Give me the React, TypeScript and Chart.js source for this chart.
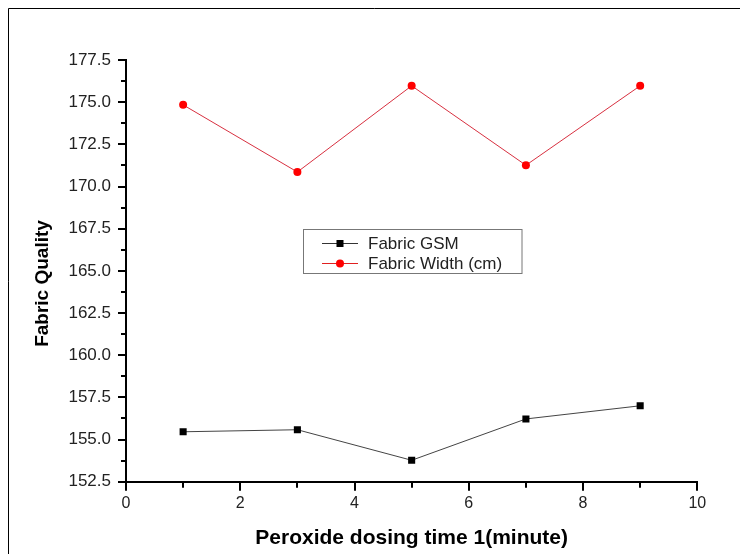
import React, { useEffect, useRef } from "react";
import { Chart, registerables } from "chart.js";

Chart.register(...registerables);

const xValues = [1, 3, 5, 7, 9];
const gsmValues = [155.46, 155.58, 153.77, 156.22, 157.0];
const widthValues = [174.84, 170.86, 175.97, 171.26, 175.97];
const seriesNames = ["Fabric GSM", "Fabric Width (cm)"];
const xTitle = "Peroxide dosing time 1(minute)";
const yTitle = "Fabric Quality";
const xMinorTicks = [1, 3, 5, 7, 9];
const yMinorTicks = [153.75, 156.25, 158.75, 161.25, 163.75, 166.25, 168.75, 171.25, 173.75, 176.25];

const FONT = "'Liberation Sans', Arial, sans-serif";

const decorPlugin = {
  id: "decor",
  beforeDraw(chart: any) {
    const ctx = chart.ctx;
    ctx.save();
    ctx.fillStyle = "#fff";
    ctx.fillRect(0, 0, chart.width, chart.height);
    ctx.strokeStyle = "#000";
    ctx.lineWidth = 1;
    ctx.beginPath();
    ctx.moveTo(8.5, chart.height);
    ctx.lineTo(8.5, 8.5);
    ctx.lineTo(chart.width, 8.5);
    ctx.stroke();
    ctx.restore();
  },
  afterDraw(chart: any) {
    const ctx = chart.ctx;
    const xs = chart.scales.x;
    const ys = chart.scales.y;
    const area = chart.chartArea;
    ctx.save();
    // minor ticks
    ctx.strokeStyle = "#000";
    ctx.lineWidth = 2;
    ctx.beginPath();
    xMinorTicks.forEach((v) => {
      const px = Math.round(xs.getPixelForValue(v));
      ctx.moveTo(px, area.bottom);
      ctx.lineTo(px, area.bottom + 6);
    });
    yMinorTicks.forEach((v) => {
      const py = Math.round(ys.getPixelForValue(v));
      ctx.moveTo(area.left, py);
      ctx.lineTo(area.left - 5, py);
    });
    ctx.stroke();

    // titles
    ctx.fillStyle = "#000";
    ctx.font = `bold 21px ${FONT}`;
    ctx.textAlign = "center";
    ctx.textBaseline = "middle";
    ctx.fillText(xTitle, (area.left + area.right) / 2, 538);
    ctx.save();
    ctx.translate(43, 283.5);
    ctx.rotate(-Math.PI / 2);
    ctx.font = `bold 19px ${FONT}`;
    ctx.fillText(yTitle, 0, 0);
    ctx.restore();

    // legend box
    const lx = 303.5, ly = 229.5, lw = 218.5, lh = 44;
    ctx.strokeStyle = "#777";
    ctx.lineWidth = 1;
    ctx.strokeRect(lx, ly, lw, lh);
    const rows = [
      { y: 243, color: "#000", line: "#333", marker: "rect", name: seriesNames[0] },
      { y: 263, color: "#ff0000", line: "#e02020", marker: "circle", name: seriesNames[1] },
    ];
    rows.forEach((r) => {
      ctx.strokeStyle = r.line;
      ctx.lineWidth = 1;
      ctx.beginPath();
      ctx.moveTo(322, r.y + 0.5);
      ctx.lineTo(358, r.y + 0.5);
      ctx.stroke();
      ctx.fillStyle = r.color;
      if (r.marker === "rect") {
        ctx.fillRect(336.5, r.y - 3, 7, 7);
      } else {
        ctx.beginPath();
        ctx.arc(340, r.y + 0.5, 4, 0, Math.PI * 2);
        ctx.fill();
      }
      ctx.fillStyle = "#222";
      ctx.font = `17px ${FONT}`;
      ctx.textAlign = "left";
      ctx.textBaseline = "middle";
      ctx.fillText(r.name, 368, r.y + 1);
    });
    ctx.restore();
  },
};

export default function App() {
  const ref = useRef<HTMLCanvasElement | null>(null);
  useEffect(() => {
    if (!ref.current) return;
    const chart = new Chart(ref.current, {
      type: "line",
      data: {
        datasets: [
          {
            label: seriesNames[0],
            data: xValues.map((x, i) => ({ x, y: gsmValues[i] })),
            borderColor: "#444",
            borderWidth: 1,
            pointStyle: "rect",
            pointRadius: 5,
            pointBackgroundColor: "#000",
            pointBorderColor: "#000",
            pointBorderWidth: 0,
            tension: 0,
          },
          {
            label: seriesNames[1],
            data: xValues.map((x, i) => ({ x, y: widthValues[i] })),
            borderColor: "#d83040",
            borderWidth: 1,
            pointStyle: "circle",
            pointRadius: 4,
            pointBackgroundColor: "#ff0000",
            pointBorderColor: "#ff0000",
            pointBorderWidth: 0,
            tension: 0,
          },
        ],
      },
      options: {
        animation: false,
        responsive: false,
        events: [],
        layout: { padding: { left: 0, top: 60, right: 42.7, bottom: 0 } },
        plugins: { legend: { display: false }, tooltip: { enabled: false } },
        scales: {
          x: {
            type: "linear",
            min: 0,
            max: 10,
            afterFit: (s: any) => { s.height = 554 - 481.7; },
            ticks: { stepSize: 2, color: "#222", font: { size: 16, family: FONT }, padding: 3, maxRotation: 0 },
            grid: { display: true, drawOnChartArea: false, drawTicks: true, tickLength: 9, color: "#000", lineWidth: 2 },
            border: { display: true, color: "#000", width: 2 },
          },
          y: {
            type: "linear",
            min: 152.5,
            max: 177.5,
            afterFit: (s: any) => { s.width = 126; },
            ticks: {
              stepSize: 2.5,
              color: "#222",
              font: { size: 17, family: FONT },
              padding: 7,
              callback: (v: any) => Number(v).toFixed(1),
            },
            grid: { display: true, drawOnChartArea: false, drawTicks: true, tickLength: 8, color: "#000", lineWidth: 2 },
            border: { display: true, color: "#000", width: 2 },
          },
        },
      },
      plugins: [decorPlugin],
    });
    return () => chart.destroy();
  }, []);
  return (
    <div style={{ position: "absolute", left: 0, top: 0, width: 740, height: 554 }}>
      <canvas ref={ref} width={740} height={554} style={{ display: "block", width: 740, height: 554 }} />
    </div>
  );
}
